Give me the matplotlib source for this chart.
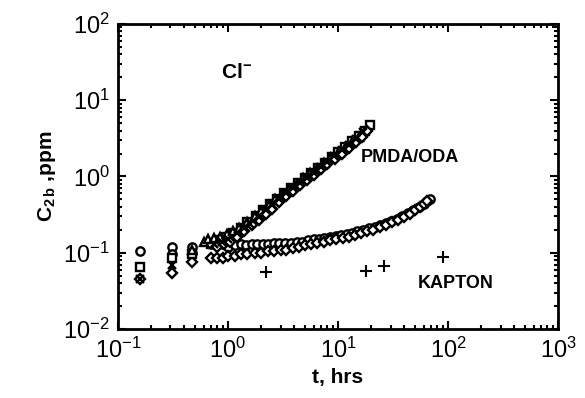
import numpy as np
import matplotlib
matplotlib.use("Agg")
import matplotlib.pyplot as plt
from matplotlib.ticker import LogLocator, NullFormatter

plt.rcParams["font.family"] = ["Liberation Sans", "DejaVu Sans"]
plt.rcParams["mathtext.fontset"] = "custom"
plt.rcParams["mathtext.rm"] = "Liberation Sans"
plt.rcParams["mathtext.it"] = "Liberation Sans:italic"
plt.rcParams["mathtext.bf"] = "Liberation Sans:bold"

# ---- PMDA/ODA film (steep curve) ----
pmda_sq_t = [0.16, 0.31, 0.47, 0.70, 0.82, 0.95, 1.1, 1.3, 1.5, 1.8, 2.1, 2.4, 2.8, 3.2, 3.7,
             4.3, 5.0, 5.7, 6.6, 7.6, 8.8, 10.0, 11.6, 13.5, 15.5, 17.5, 19.5]
pmda_sq_c = [0.065, 0.085, 0.095, 0.13, 0.145, 0.16, 0.18, 0.21, 0.25, 0.30, 0.36, 0.43, 0.50, 0.60, 0.70,
             0.82, 0.95, 1.10, 1.28, 1.50, 1.80, 2.10, 2.45, 2.90, 3.40, 3.90, 4.80]

pmda_tri_t = [0.47, 0.60, 0.66, 0.75, 0.85, 0.97, 1.1, 1.25, 1.5, 1.75, 2.0, 2.35, 2.7, 3.1, 3.6,
              4.2, 4.8, 5.6, 6.4, 7.4, 8.5, 10.0, 11.5, 13.5, 15.5]
pmda_tri_c = [0.11, 0.14, 0.15, 0.155, 0.16, 0.175, 0.19, 0.21, 0.25, 0.30, 0.35, 0.42, 0.50, 0.58, 0.68,
              0.80, 0.95, 1.10, 1.25, 1.50, 1.75, 2.05, 2.40, 2.85, 3.30]

pmda_x_t = [0.16, 0.31, 0.75, 0.88, 1.0, 1.2, 1.4, 1.6, 1.9, 2.2, 2.5, 2.9, 3.4, 3.9, 4.5,
            5.2, 6.0, 7.0, 8.0, 9.2, 10.8, 12.5, 14.5, 17.0]
pmda_x_c = [0.045, 0.07, 0.13, 0.14, 0.15, 0.18, 0.21, 0.24, 0.29, 0.36, 0.42, 0.50, 0.60, 0.70, 0.82,
            0.95, 1.12, 1.35, 1.55, 1.85, 2.20, 2.60, 3.10, 3.80]

pmda_dia_t = [0.8, 0.92, 1.05, 1.2, 1.4, 1.65, 1.9, 2.2, 2.5, 2.9, 3.4, 3.9, 4.5, 5.2, 6.0,
              7.0, 8.0, 9.3, 10.8, 12.5, 14.5, 16.5, 18.5]
pmda_dia_c = [0.12, 0.13, 0.14, 0.16, 0.19, 0.23, 0.27, 0.32, 0.38, 0.46, 0.55, 0.65, 0.78, 0.90, 1.05,
              1.25, 1.45, 1.70, 2.00, 2.35, 2.80, 3.30, 4.00]

# ---- KAPTON film (shallow curve) ----
kap_circ_t = [0.16, 0.31, 0.31, 0.47, 0.47, 0.70, 0.80, 0.90, 1.0, 1.15, 1.3, 1.45, 1.65, 1.85, 2.1,
              2.3, 2.6, 2.9, 3.3, 3.7, 4.2, 4.7, 5.3, 6.0, 6.7, 7.5, 8.5, 9.5, 10.7, 12.0, 13.5,
              15.0, 17.0, 19.0, 21.5, 24.0, 27.0, 30.0, 34.0, 38.0, 43.0, 48.0, 54.0, 60.0, 64.0, 68.0]
kap_circ_c = [0.105, 0.12, 0.095, 0.12, 0.10, 0.13, 0.13, 0.13, 0.12, 0.125, 0.13, 0.125, 0.13, 0.13, 0.13,
              0.13, 0.135, 0.135, 0.135, 0.135, 0.14, 0.14, 0.145, 0.15, 0.15, 0.155, 0.16, 0.165, 0.17, 0.175, 0.18,
              0.19, 0.20, 0.21, 0.22, 0.23, 0.245, 0.26, 0.28, 0.30, 0.33, 0.36, 0.40, 0.44, 0.47, 0.50]

kap_dia_t = [0.16, 0.31, 0.47, 0.70, 0.80, 0.90, 1.0, 1.15, 1.3, 1.5, 1.75, 2.0, 2.3, 2.6, 3.0,
             3.4, 3.9, 4.4, 5.0, 5.7, 6.5, 7.4, 8.4, 9.6, 11.0, 12.5, 14.2, 16.0, 18.5, 21.0, 24.0,
             27.0, 31.0, 35.0, 40.0, 45.0, 50.0, 56.0, 61.0, 65.0]
kap_dia_c = [0.045, 0.055, 0.075, 0.085, 0.085, 0.085, 0.09, 0.09, 0.095, 0.095, 0.10, 0.10, 0.105, 0.105, 0.11,
             0.11, 0.115, 0.12, 0.125, 0.13, 0.135, 0.14, 0.145, 0.15, 0.155, 0.16, 0.17, 0.18, 0.19, 0.20, 0.215,
             0.23, 0.25, 0.27, 0.29, 0.32, 0.36, 0.40, 0.44, 0.48]

kap_plus_t = [2.2, 18.0, 26.0, 90.0]
kap_plus_c = [0.056, 0.058, 0.068, 0.087]

fig = plt.figure(figsize=(5.85, 3.98), dpi=100)
ax = fig.add_axes([0.2017, 0.1734, 0.7523, 0.7663])

mk = dict(linestyle="none", markerfacecolor="white", markeredgecolor="black",
          markeredgewidth=1.7, markersize=6)
ax.plot(kap_circ_t, kap_circ_c, marker="o", **mk)
ax.plot(kap_dia_t, kap_dia_c, marker="D", **{**mk, "markersize": 5})
ax.plot(pmda_sq_t, pmda_sq_c, marker="s", **mk)
ax.plot(pmda_tri_t, pmda_tri_c, marker="^", **mk)
ax.plot(pmda_dia_t, pmda_dia_c, marker="D", **{**mk, "markersize": 5})
ax.plot(pmda_x_t, pmda_x_c, marker="x", linestyle="none", color="black",
        markeredgewidth=1.7, markersize=6)
ax.plot(kap_plus_t, kap_plus_c, marker="+", linestyle="none", color="black",
        markeredgewidth=1.5, markersize=8)

ax.set_xscale("log")
ax.set_yscale("log")
ax.set_xlim(0.1, 1000)
ax.set_ylim(0.01, 100)

for a in (ax.xaxis, ax.yaxis):
    a.set_major_locator(LogLocator(base=10, numticks=10))
    a.set_minor_locator(LogLocator(base=10, subs=np.arange(2, 10), numticks=50))
    a.set_minor_formatter(NullFormatter())

ax.tick_params(which="both", direction="in", top=True, right=True, width=1.5)
ax.tick_params(which="major", length=6, labelsize=17, pad=6)
ax.tick_params(which="minor", length=3)
for s in ax.spines.values():
    s.set_linewidth(2)

ax.set_xlabel("t, hrs", fontsize=15, fontweight="bold")
ax.set_ylabel(r"C$_{\mathbf{2\,b}}$ ,ppm", fontsize=15, fontweight="bold")

ax.text(0.86, 23, r"Cl$^{\mathbf{-}}$", fontsize=15, fontweight="bold", va="center")
ax.text(16, 1.75, "PMDA/ODA", fontsize=13, fontweight="bold", va="center")
ax.text(53, 0.04, "KAPTON", fontsize=13, fontweight="bold", va="center")

fig.savefig("out.png", dpi=100)
